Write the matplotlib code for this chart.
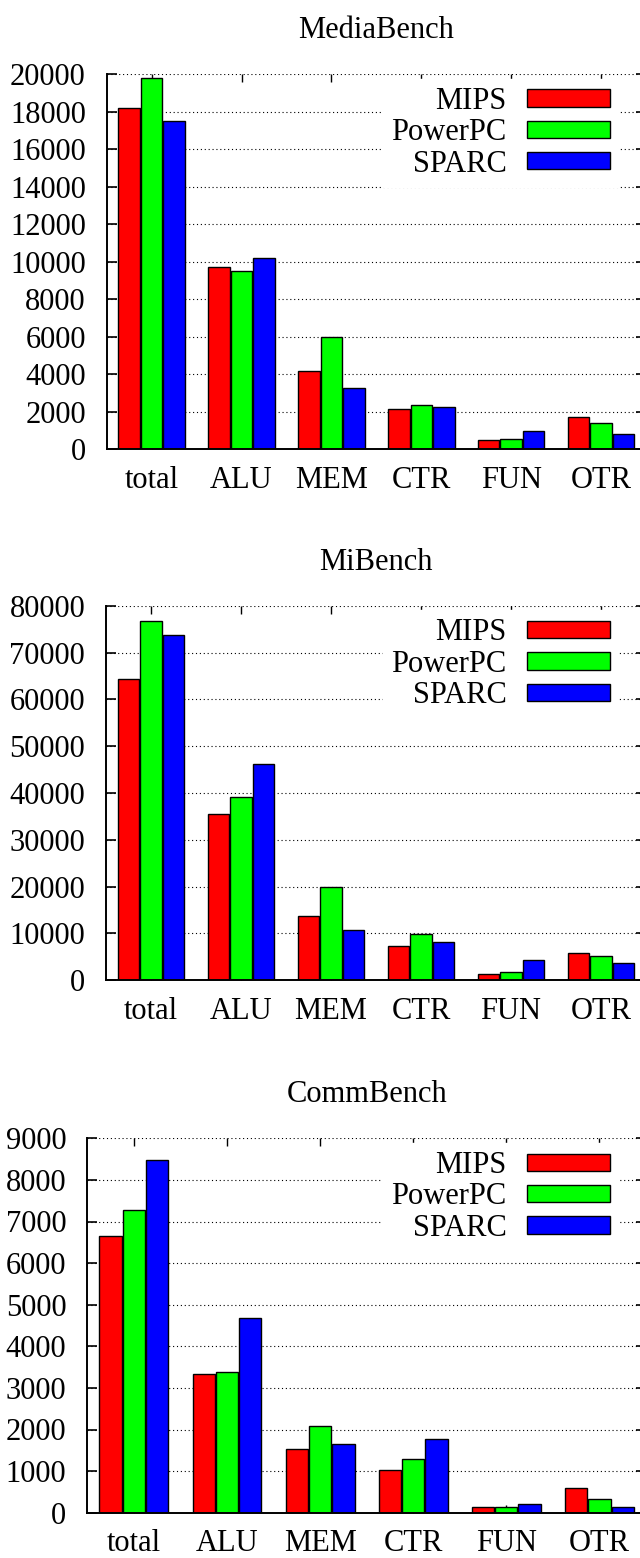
import numpy as np
import matplotlib
matplotlib.use("Agg")
from matplotlib import pyplot as plt
from matplotlib.ticker import FormatStrFormatter

plt.rcParams['font.family'] = ['Liberation Serif', 'DejaVu Serif']
plt.rcParams['font.size'] = 22

# data
categories = ["total", "ALU", "MEM", "CTR", "FUN", "OTR"]
archs = ["MIPS", "PowerPC", "SPARC"]
colors = ["#ff0000", "#00ff00", "#0000ff"]

media_mips = [18200, 9700, 4150, 2150, 500, 1720]
media_ppc = [19800, 9500, 6000, 2350, 550, 1420]
media_sparc = [17500, 10200, 3250, 2230, 1000, 800]

mi_mips = [64300, 35500, 13600, 7300, 1250, 5700]
mi_ppc = [76700, 39200, 20000, 9800, 1800, 5150]
mi_sparc = [73700, 46200, 10700, 8100, 4300, 3600]

comm_mips = [6650, 3330, 1540, 1030, 130, 590]
comm_ppc = [7270, 3380, 2080, 1290, 145, 335]
comm_sparc = [8470, 4690, 1650, 1760, 210, 135]

panels = [
    ("MediaBench", [media_mips, media_ppc, media_sparc], 20000, 2000),
    ("MiBench", [mi_mips, mi_ppc, mi_sparc], 80000, 10000),
    ("CommBench", [comm_mips, comm_ppc, comm_sparc], 9000, 1000),
]

W, H = 640, 1558
# axes boxes in pixels: left, top, bottom (right edge runs off the picture)
boxes = [(106.7, 74.0, 449.3), (106.0, 605.7, 980.1), (87.3, 1138.3, 1512.7)]
right_px = 646.0

fig = plt.figure(figsize=(W / 100, H / 100), dpi=100)

x = np.arange(len(categories))
bw = 0.24
step = 0.25

for (title, series, ymax, ystep), (lp, tp, bp) in zip(panels, boxes):
    ax = fig.add_axes([lp / W, (H - bp) / H, (right_px - lp) / W, (bp - tp) / H])
    ax.set_axisbelow(True)

    bars = []
    for i, vals in enumerate(series):
        b = ax.bar(x + (i - 1) * step, vals, width=bw, color=colors[i],
                   edgecolor="black", linewidth=1.0, label=archs[i])
        bars.append(b)

    ax.set_xlim(-0.5, len(categories) - 0.5)
    ax.set_ylim(0, ymax)
    ax.set_xticks(x)
    ax.set_xticklabels(categories)
    ax.set_yticks(np.arange(0, ymax + 1, ystep))
    ax.yaxis.set_major_formatter(FormatStrFormatter('%d'))

    ax.spines['top'].set_visible(False)
    ax.spines['right'].set_visible(False)
    ax.spines['left'].set_linewidth(1.4)
    ax.spines['bottom'].set_linewidth(1.4)

    ax.tick_params(axis='x', direction='in', top=True, bottom=True,
                   length=5.5, width=1.0, pad=12)
    ax.tick_params(axis='y', direction='in', left=True, right=True,
                   length=7, width=1.2, pad=15)

    ax.yaxis.grid(True, color='black', linestyle=(0, (1, 2.5)), linewidth=0.8)

    ax.set_title(title, fontsize=22, pad=26)

    # key, text on the left of the swatch, white box hides the grid
    leg = ax.legend(handles=bars, loc='upper right', markerfirst=False,
                    bbox_to_anchor=(618.3 / W, (H - (tp + 4.5)) / H),
                    bbox_transform=fig.transFigure,
                    frameon=True, fancybox=False, framealpha=1.0,
                    facecolor='white', edgecolor='white',
                    borderpad=0.27, borderaxespad=0, labelspacing=0.08,
                    handlelength=2.73, handleheight=0.49, handletextpad=0.65,
                    fontsize=22)

fig.savefig("out.png", dpi=100)
